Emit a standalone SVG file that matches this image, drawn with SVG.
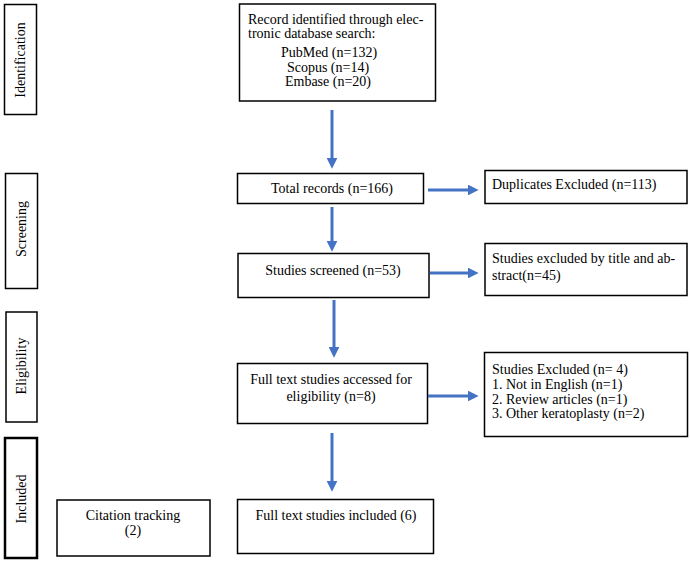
<svg xmlns="http://www.w3.org/2000/svg" width="690" height="565" viewBox="0 0 690 565">
<defs>
<style>
.box{fill:#fff;stroke:#000;stroke-width:1.5}
.thick{fill:#fff;stroke:#000;stroke-width:2.5}
text{font-family:"Liberation Serif","Times New Roman",serif;font-size:14px;fill:#000}
.c{text-anchor:middle}
.side{font-size:14px;text-anchor:middle}
.arrow{stroke:#4472C4;stroke-width:3;fill:none;marker-end:url(#ah)}
</style>
<marker id="ah" viewBox="0 0 10 10" refX="2" refY="5" markerWidth="3.6" markerHeight="3.6" orient="auto" markerUnits="strokeWidth">
<path d="M0,0 L10,5 L0,10 Z" fill="#4472C4"/>
</marker>
</defs>
<rect width="690" height="565" fill="#fff"/>

<g id="stage-identification">
<rect class="box" x="4.5" y="4.5" width="32" height="110"/>
<text class="side" transform="translate(25,60) rotate(-90)">Identification</text>
</g>
<g id="stage-screening">
<rect class="box" x="5.5" y="173.5" width="32" height="115"/>
<text class="side" transform="translate(26,229) rotate(-90)">Screening</text>
</g>
<g id="stage-eligibility">
<rect class="box" x="6" y="312" width="31" height="110"/>
<text class="side" transform="translate(26,366) rotate(-90)">Eligibility</text>
</g>
<g id="stage-included">
<rect class="thick" x="5" y="438" width="32" height="120"/>
<text class="side" transform="translate(26,499) rotate(-90)">Included</text>
</g>

<g id="records">
<rect class="box" x="239.5" y="4" width="196" height="97"/>
<text x="248" y="24">Record identified through elec-</text>
<text x="248" y="38">tronic database search:</text>
<text class="c" x="329" y="57">PubMed (n=132)</text>
<text class="c" x="328" y="72">Scopus (n=14)</text>
<text class="c" x="328" y="86">Embase (n=20)</text>
</g>
<g id="total">
<rect class="box" x="237.5" y="173.5" width="186" height="30"/>
<text class="c" x="332" y="193">Total records (n=166)</text>
</g>
<g id="duplicates">
<rect class="box" x="485" y="170.5" width="202" height="33"/>
<text x="492" y="189">Duplicates Excluded (n=113)</text>
</g>
<g id="screened">
<rect class="box" x="238" y="253.5" width="191" height="44"/>
<text class="c" x="333" y="275">Studies screened (n=53)</text>
</g>
<g id="excluded-title">
<rect class="box" x="485" y="243.5" width="202" height="52"/>
<text x="492" y="263">Studies excluded by title and ab-</text>
<text x="492" y="280">stract(n=45)</text>
</g>
<g id="fulltext">
<rect class="box" x="237.5" y="363.5" width="190" height="60"/>
<text class="c" x="331" y="384">Full text studies accessed for</text>
<text class="c" x="331" y="401">eligibility (n=8)</text>
</g>
<g id="excluded-full">
<rect class="box" x="484.5" y="352.5" width="203" height="84"/>
<text x="492" y="374">Studies Excluded (n= 4)</text>
<text x="492" y="389">1. Not in English (n=1)</text>
<text x="492" y="404">2. Review articles (n=1)</text>
<text x="492" y="418">3. Other keratoplasty (n=2)</text>
</g>
<g id="citation">
<rect class="box" x="57" y="500" width="153" height="56"/>
<text class="c" x="133" y="520">Citation tracking</text>
<text class="c" x="133" y="535">(2)</text>
</g>
<g id="included">
<rect class="box" x="237.5" y="499.5" width="196" height="54"/>
<text class="c" x="336" y="520">Full text studies included (6)</text>
</g>

<g id="connectors">
<line class="arrow" x1="332" y1="110" x2="332" y2="160"/>
<line class="arrow" x1="428" y1="190" x2="470" y2="190"/>
<line class="arrow" x1="332" y1="207" x2="332" y2="243"/>
<line class="arrow" x1="430" y1="273" x2="470" y2="273"/>
<line class="arrow" x1="334" y1="300" x2="334" y2="349"/>
<line class="arrow" x1="428" y1="396" x2="470" y2="396"/>
<line class="arrow" x1="332" y1="433" x2="332" y2="483"/>
</g>
</svg>
